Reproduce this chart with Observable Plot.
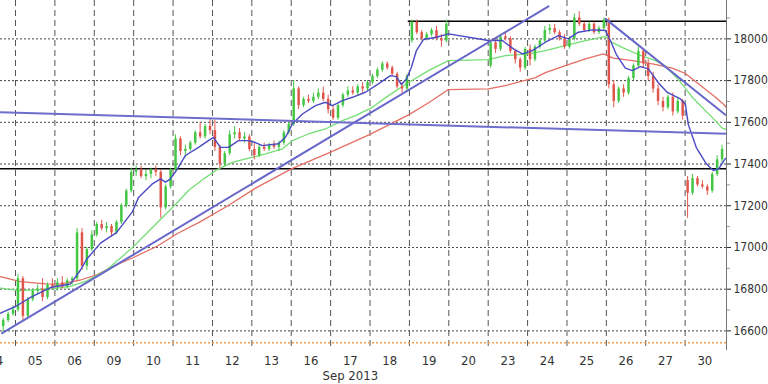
<!DOCTYPE html>
<html><head><meta charset="utf-8">
<script src="https://cdn.jsdelivr.net/npm/d3@7"></script>
<script src="https://cdn.jsdelivr.net/npm/@observablehq/plot@0.6"></script>
<style>html,body{margin:0;padding:0;background:#fff;overflow:hidden}</style>
</head><body><div id="chart"></div>
<script>
// ---- data ----
const dayLabels = ["04","05","06","09","10","11","12","13","16","17","18","19","20","23","24","25","26","27","30"];
const monthLabel = "Sep 2013";
const yTicks = [16600,16800,17000,17200,17400,17600,17800,18000];
const yMinor = [16700,16900,17100,17300,17500,17700,17900,18100];

// hourly candles per day (day "04" shows only its last bars, "20" has none)
const openP = [
 [16620,16650,16680],
 [16700,16850,16670,16750,16790,16800,16760,16820],
 [16810,16830,16810,16840,16850,17070,16910,16990],
 [17060,17110,17090,17100,17070,17120,17200,17270],
 [17360,17370,17340,17350,17370,17360,17190,17290],
 [17370,17520,17460,17470,17500,17550,17530,17580],
 [17560,17480,17400,17450,17540,17550,17520,17530],
 [17470,17440,17480,17470,17490,17480,17500,17550],
 [17590,17760,17680,17710,17700,17720,17740,17710],
 [17660,17620,17680,17730,17750,17740,17770,17760],
 [17790,17820,17850,17880,17860,17830,17770,17760],
 [17990,18080,18030,18000,18020,18040,18000,17990],
 [],
 [17870,17980,17950,18010,18000,17940,17900,17860],
 [17950,17900,17960,17990,18040,18050,18030,18000],
 [17960,18000,18100,18070,18040,18070,18030,18050],
 [18090,17780,17700,17760,17740,17810,17870,17940],
 [17880,17820,17760,17700,17670,17720,17650,17700],
 [17320,17260,17330,17300,17290,17270,17350,17420]
];
const highP = [
 [16660,16690,16720],
 [16870,16860,16760,16800,16820,16850,16830,16850],
 [16850,16860,16850,16860,17090,17090,17000,17080],
 [17120,17130,17120,17110,17130,17210,17280,17380],
 [17390,17390,17370,17380,17390,17370,17300,17380],
 [17540,17530,17490,17510,17560,17600,17590,17620],
 [17610,17490,17460,17560,17580,17570,17550,17540],
 [17500,17490,17500,17500,17510,17510,17560,17600],
 [17800,17770,17720,17730,17740,17760,17770,17730],
 [17680,17690,17740,17770,17770,17780,17790,17800],
 [17830,17860,17890,17890,17870,17840,17790,17830],
 [18090,18090,18040,18030,18050,18060,18020,18090],
 [],
 [17990,18000,18020,18030,18010,17950,17910,17960],
 [17970,17970,18000,18060,18070,18070,18040,18020],
 [18010,18120,18130,18080,18080,18080,18060,18100],
 [18100,17800,17770,17780,17820,17880,17960,17950],
 [17900,17840,17780,17720,17730,17740,17720,17710],
 [17340,17350,17340,17320,17300,17360,17440,17490]
];
const lowP = [
 [16590,16640,16670],
 [16690,16650,16660,16740,16770,16740,16750,16800],
 [16790,16800,16800,16820,16840,16890,16890,16980],
 [17050,17080,17070,17050,17060,17110,17190,17260],
 [17340,17330,17320,17330,17340,17140,17180,17280],
 [17360,17440,17430,17460,17490,17520,17520,17540],
 [17460,17380,17390,17440,17520,17510,17500,17460],
 [17420,17430,17460,17460,17470,17460,17490,17540],
 [17580,17660,17670,17690,17690,17710,17700,17640],
 [17610,17610,17670,17720,17730,17730,17740,17750],
 [17780,17810,17840,17850,17820,17760,17740,17750],
 [17980,18020,17990,17990,18010,17990,17960,17980],
 [],
 [17860,17930,17940,17990,17930,17880,17840,17850],
 [17870,17890,17950,17980,18020,18020,17990,17950],
 [17950,17990,18060,18030,18030,18020,18020,18040],
 [17760,17670,17690,17720,17730,17800,17860,17860],
 [17800,17740,17680,17650,17660,17630,17640,17610],
 [17140,17250,17290,17280,17250,17260,17340,17400]
];
const closeP = [
 [16650,16680,16700],
 [16850,16670,16750,16790,16800,16760,16820,16810],
 [16830,16810,16840,16850,17070,16910,16990,17060],
 [17110,17090,17100,17070,17120,17200,17270,17360],
 [17370,17340,17350,17370,17360,17190,17290,17370],
 [17520,17460,17470,17500,17550,17530,17580,17560],
 [17480,17400,17450,17540,17550,17520,17530,17470],
 [17440,17480,17470,17490,17480,17500,17550,17590],
 [17760,17680,17710,17700,17720,17740,17710,17660],
 [17620,17680,17730,17750,17740,17770,17760,17790],
 [17820,17850,17880,17860,17830,17770,17760,17820],
 [18080,18030,18000,18020,18040,18000,17990,18070],
 [],
 [17980,17950,18010,18000,17940,17900,17860,17950],
 [17900,17960,17990,18040,18050,18030,18000,17960],
 [18000,18100,18070,18040,18070,18030,18050,18090],
 [17780,17700,17760,17740,17810,17870,17940,17880],
 [17820,17760,17700,17670,17720,17650,17700,17630],
 [17260,17330,17300,17290,17270,17350,17420,17470]
];

// moving averages: [time in trading days, value]
const blueMA = [[0.619,16685],[1.0,16717],[1.381,16761],[1.888,16808],[2.396,16825],[2.650,16892],[2.802,16942],[3.157,17021],[3.563,17071],[3.970,17172],[4.122,17239],[4.477,17305],[4.680,17329],[4.807,17313],[4.934,17329],[5.112,17377],[5.315,17441],[5.645,17480],[5.898,17512],[6.025,17528],[6.203,17480],[6.406,17480],[6.660,17512],[6.914,17512],[7.091,17503],[7.269,17488],[7.675,17497],[7.853,17528],[8.030,17592],[8.284,17640],[8.614,17680],[8.868,17696],[9.046,17680],[9.299,17704],[9.553,17720],[9.883,17744],[10.213,17784],[10.518,17824],[10.670,17819],[10.797,17781],[10.924,17808],[11.051,17864],[11.178,17944],[11.355,17997],[11.685,18008],[11.990,18024],[13.005,17992],[13.360,17992],[13.640,17952],[13.868,17928],[14.122,17944],[14.452,17984],[14.782,18016],[15.036,18000],[15.289,18032],[15.645,18043],[15.975,18040],[16.102,17992],[16.254,17925],[16.482,17860],[16.660,17848],[16.863,17867],[17.066,17856],[17.320,17790],[17.548,17743],[17.878,17712],[18.005,17688],[18.081,17589],[18.284,17479],[18.538,17401],[18.716,17369],[18.855,17378],[19.020,17426]];
const greenMA = [[0.619,16805],[1.127,16793],[1.888,16801],[2.396,16813],[2.827,16841],[3.335,16895],[3.995,17004],[4.299,17062],[4.680,17134],[5.061,17206],[5.391,17273],[5.822,17335],[6.152,17377],[6.508,17408],[6.838,17425],[7.091,17436],[7.345,17449],[7.777,17473],[8.030,17512],[8.437,17544],[8.868,17568],[9.299,17608],[9.629,17632],[10.061,17672],[10.467,17728],[10.898,17781],[11.482,17848],[11.990,17896],[13.005,17901],[13.437,17920],[14.020,17928],[14.452,17944],[14.959,17968],[15.467,17992],[15.975,18011],[16.152,17982],[16.482,17952],[16.812,17925],[17.244,17896],[17.497,17870],[17.853,17800],[18.183,17720],[18.513,17656],[18.766,17608],[18.944,17572],[19.046,17565]];
const redMA = [[0.619,16860],[1.127,16836],[1.761,16825],[2.142,16824],[2.650,16844],[3.081,16870],[3.411,16904],[3.995,16952],[4.604,17007],[5.112,17067],[5.695,17124],[6.381,17199],[7.117,17287],[8.005,17377],[8.970,17455],[9.985,17541],[10.492,17589],[10.990,17637],[11.508,17696],[11.990,17757],[13.005,17760],[13.437,17776],[14.198,17814],[14.452,17838],[14.959,17872],[15.467,17904],[15.924,17928],[16.178,17908],[16.660,17896],[17.168,17880],[17.675,17860],[18.005,17834],[18.360,17781],[18.716,17728],[18.970,17688],[19.050,17670]];

// drawn trend lines and levels
const trendUp = [[0.662,16589],[14.53,18156]];
const trendFlat = [[0.619,17648],[19.05,17545]];
const trendDown = [[15.98,18096],[19.02,17636]];
const resistance = {from: 10.97, to: 19.05, level: 18084};
const support = 17377;
const baseLevel = 16543;

// ---- build ----
const bars = [];
dayLabels.forEach((lab, i) => {
  const n = closeP[i].length;
  const off = i === 0 ? 8 - n : 0;
  for (let k = 0; k < n; k++) {
    bars.push({t: i + (off + k + 0.5) / 8, o: openP[i][k], h: highP[i][k], l: lowP[i][k], c: closeP[i][k]});
  }
});
const xDom = [0.619, 19.05];
const toObj = a => a.map(([t, v]) => ({t, v}));
const up = "#43c643", down = "#e0554b";
const col = d => d.c >= d.o ? up : down;

const chart = Plot.plot({
  width: 768, height: 384,
  marginLeft: 0, marginRight: 42, marginTop: 0, marginBottom: 34,
  x: {domain: xDom, axis: null},
  y: {domain: [16506, 18184], axis: null},
  style: {fontFamily: "'DejaVu Sans Condensed','DejaVu Sans',sans-serif", fontSize: "13px", color: "#333", background: "#fff", overflow: "visible"},
  marks: [
    Plot.ruleY(yTicks, {stroke: "#444", strokeDasharray: "2,2", strokeWidth: 1}),
    Plot.ruleX(d3.range(1, 19), {stroke: "#555", strokeDasharray: "6,4", strokeWidth: 1}),
    Plot.ruleY([baseLevel], {stroke: "#f0a24a", strokeDasharray: "2,2", strokeWidth: 1.5}),
    Plot.ruleY([support], {stroke: "#000", strokeWidth: 1.5}),
    Plot.ruleY([resistance], {y: "level", x1: "from", x2: "to", stroke: "#000", strokeWidth: 1.5}),
    Plot.line(toObj(redMA), {x: "t", y: "v", stroke: "#e46e64", strokeWidth: 1.3, clip: true}),
    Plot.line(toObj(greenMA), {x: "t", y: "v", stroke: "#74de74", strokeWidth: 1.3, clip: true}),
    Plot.ruleX(bars, {x: "t", y1: "l", y2: "h", stroke: col, strokeWidth: 1}),
    Plot.ruleX(bars, {x: "t", y1: "o", y2: "c", stroke: col, strokeWidth: 2.5}),
    Plot.line(toObj(blueMA), {x: "t", y: "v", stroke: "#4a4ac4", strokeWidth: 1.4, clip: true}),
    Plot.line(toObj(trendUp), {x: "t", y: "v", stroke: "#6868ca", strokeWidth: 2, clip: true}),
    Plot.line(toObj(trendFlat), {x: "t", y: "v", stroke: "#6e6ece", strokeWidth: 2, clip: true}),
    Plot.line(toObj(trendDown), {x: "t", y: "v", stroke: "#6868ca", strokeWidth: 2, clip: true}),
    Plot.ruleX([xDom[1]], {stroke: "#777", strokeWidth: 1}),
    Plot.axisY(yMinor, {anchor: "right", tickSize: 3, stroke: "#999", tickFormat: () => ""}),
    Plot.axisY(yTicks, {anchor: "right", tickSize: 4, tickPadding: 3, stroke: "#222", tickFormat: d3.format("d"), fontSize: 12, fill: "#333"}),
    Plot.axisX(dayLabels.map((d, i) => i + 0.5), {tickSize: 0, tickPadding: 5, tickFormat: d => dayLabels[Math.floor(d)], fontSize: 13, fill: "#333"}),
    Plot.axisX([9.5], {tickSize: 0, tickPadding: 20, tickFormat: () => monthLabel, fontSize: 13, fill: "#333"})
  ]
});
document.getElementById("chart").appendChild(chart);
</script>
</body></html>
